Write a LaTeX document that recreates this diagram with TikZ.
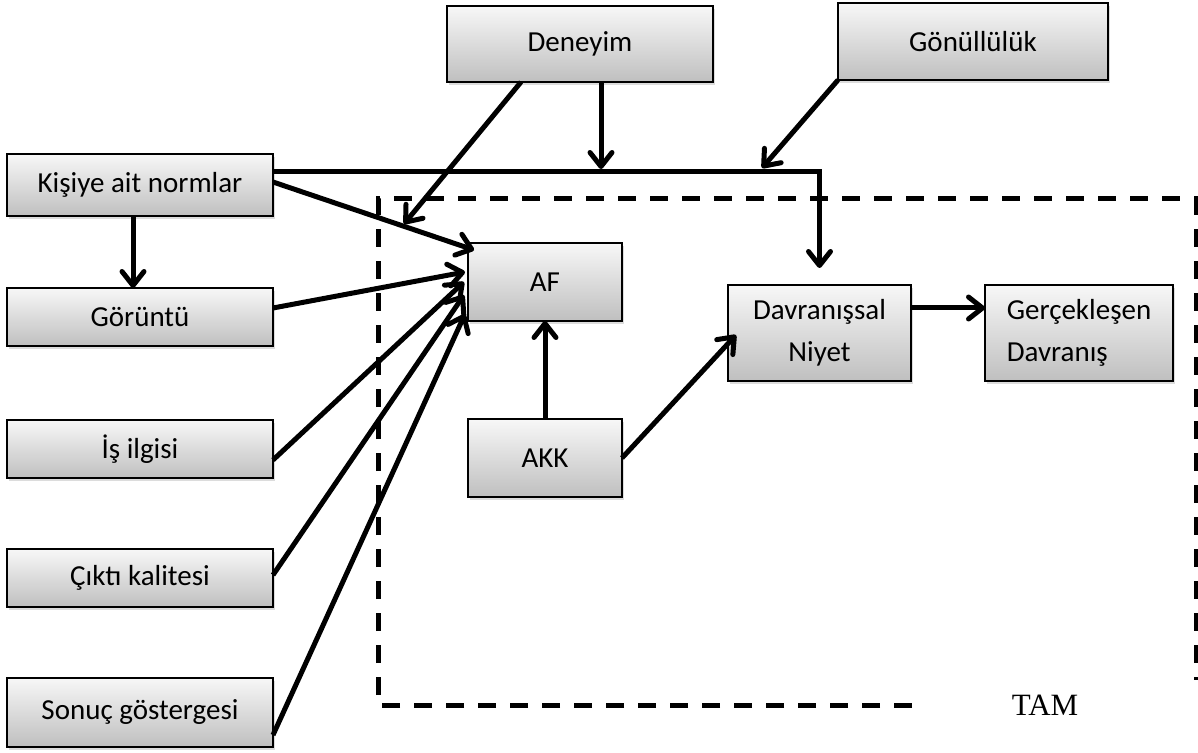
\documentclass[tikz,border=0pt]{standalone}
\usepackage{fontspec}
\setmainfont{Carlito}
\newfontfamily\tamfont{Liberation Serif}
\usetikzlibrary{arrows.meta,shadows}
\tikzset{
  box/.style={draw, line width=1pt, top color=black!3, bottom color=black!25,
    drop shadow={shadow xshift=1.2pt, shadow yshift=-1.6pt, opacity=0.28},
    inner sep=0pt, outer sep=0pt, align=center,
    font=\fontsize{14.5}{21}\selectfont},
  wide/.style={minimum width=133pt, minimum height=29pt},
  arr/.style={line width=2.5pt, -{Straight Barb[length=7pt,width=11pt,round]}},
  frame/.style={line width=2.5pt, dash pattern=on 9pt off 7pt},
}
\begin{document}
\begin{tikzpicture}[x=0.5pt,y=-0.5pt]
\useasboundingbox (0,0) rectangle (1198,753);

% dashed frame of the TAM core
\draw[frame] (912,705) -- (378,705) -- (378,199) -- (1196,199) -- (1196,680);
\node[font=\tamfont\fontsize{15.5}{18}\selectfont] (tam) at (1045,705) {TAM};

% external factors
\node[box, wide, minimum height=38pt] (den) at (580,44) {Deneyim};
\node[box, wide, minimum width=135pt, minimum height=38.5pt] (gon) at (973,41.5) {Gönüllülük};
\node[box, wide, minimum height=31pt] (kis) at (140,185) {Kişiye ait normlar};
\node[box, wide] (gor) at (140,317) {Görüntü};
\node[box, wide] (is) at (140,449) {İş ilgisi};
\node[box, wide] (cik) at (140,578) {Çıktı kalitesi};
\node[box, wide, minimum height=34.5pt] (son) at (140,712) {Sonuç göstergesi};

% TAM constructs
\node[box, minimum width=77pt, minimum height=39pt] (af) at (545,282) {AF};
\node[box, minimum width=77pt, minimum height=39pt] (akk) at (545,458) {AKK};
\node[box, minimum width=91.5pt, minimum height=48pt] (davr) at (819.5,333) {Davranışsal\\Niyet};
\node[box, minimum width=94pt, minimum height=48pt, align=left] (ger) at (1079,333) {Gerçekleşen\\Davranış};

% free ends of connectors
\coordinate (dj) at (601,169);
\coordinate (gj) at (762,168);
\coordinate (dtip) at (404,224);

% connectors
\draw[arr] ([yshift=6.5pt]kis.east) -| ([yshift=8.5pt]davr.north);
\draw[arr] ([xshift=10.5pt]den.south) -- (dj);
\draw[arr] (gon.south west) -- (gj);
\draw[arr] ([xshift=-29.5pt]den.south) -- (dtip);
\draw[arr] ([xshift=-3.5pt]kis.south) -- ([xshift=-3.5pt]gor.north);
\draw[arr] ([yshift=1.5pt]kis.east) -- ([xshift=3pt,yshift=16pt]af.west);
\draw[arr] ([yshift=4.5pt]gor.east) -- ([xshift=-1.5pt,yshift=5pt]af.west);
\draw[arr] ([yshift=-5.5pt]is.east) -- ([xshift=-2pt,yshift=0pt]af.west);
\draw[arr] ([yshift=1.5pt]cik.east) -- ([xshift=-2pt,yshift=-6.5pt]af.west);
\draw[arr] ([yshift=-11.5pt]son.east) -- ([xshift=-1.5pt,yshift=-16pt]af.west);
\draw[arr] (akk.north) -- (af.south);
\draw[arr] (akk.east) -- ([xshift=4pt,yshift=-1pt]davr.west);
\draw[arr] ([yshift=12.5pt]davr.east) -- ([yshift=12.5pt]ger.west);
\end{tikzpicture}
\end{document}
